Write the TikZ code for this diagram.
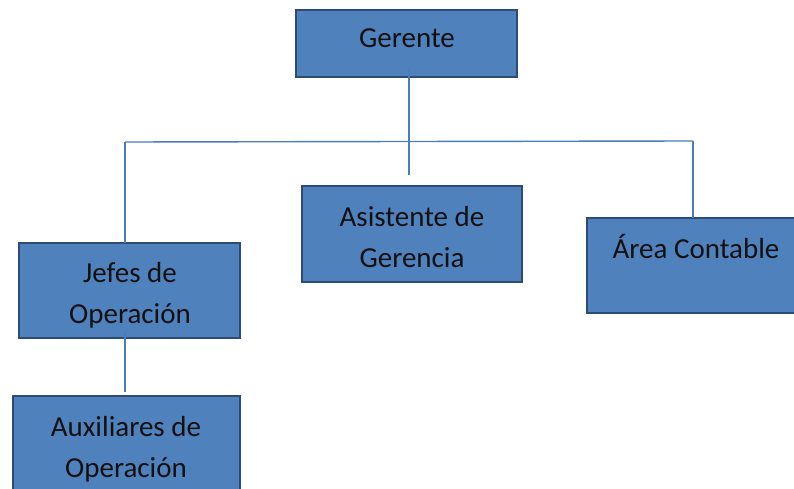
\documentclass[tikz,border=0pt]{standalone}
\usepackage{fontspec}
\setmainfont{Carlito}
\usetikzlibrary{calc}
\definecolor{boxfill}{HTML}{4F81BD}
\definecolor{boxedge}{HTML}{2E4B74}
\definecolor{linkc}{HTML}{4A7EBB}
\definecolor{txt}{HTML}{111111}
\begin{document}
\begin{tikzpicture}[x=1pt,y=-1pt,
  orgbox/.style={draw=boxedge, line width=2.2pt, fill=boxfill, inner sep=0pt, outer sep=0pt},
  lbl/.style={anchor=base, inner sep=0pt, text=txt, font=\fontsize{29}{41}\selectfont},
  link/.style={draw=linkc, line width=1.4pt}]
\useasboundingbox (0,0) rectangle (794,489);
\clip (0,0) rectangle (794,489);
% boxes
\node[orgbox, minimum width=221pt, minimum height=67pt] (ger) at (406.5,43.5) {};
\node[orgbox, minimum width=220pt, minimum height=96pt] (asis) at (412,234) {};
\node[orgbox, minimum width=220pt, minimum height=95pt] (area) at (697,265.5) {};
\node[orgbox, minimum width=221pt, minimum height=95pt] (jefes) at (129.5,290.5) {};
\node[orgbox, minimum width=227pt, minimum height=114pt] (aux) at (126.5,453) {};
% texts
\node[lbl] (gerT) at (407,48) {Gerente};
\node[lbl] (asisT1) at (412,226) {Asistente de};
\node[lbl] (asisT2) at (412,267) {Gerencia};
\node[lbl] (areaT) at (696,258) {Área Contable};
\node[lbl] (jefesT1) at (130,282) {Jefes de};
\node[lbl] (jefesT2) at (130,323) {Operación};
\node[lbl] (auxT1) at (126,436) {Auxiliares de};
\node[lbl] (auxT2) at (126,477) {Operación};
% connectors
\coordinate (gtop) at (409,68);
\coordinate (gbot) at (409,175);
\coordinate (hl) at (125,142);
\coordinate (hr) at (693,141);
\draw[link] (gtop) -- (gbot);
\draw[link] (hl) -- (hr);
\draw[link] (hl) -- (jefes.north -| hl);
\draw[link] (hr) -- (area.north -| hr);
\draw[link] ($(jefes.south -| hl)+(0,-6)$) -- ($(aux.north -| hl)+(0,-4)$);
\end{tikzpicture}
\end{document}
